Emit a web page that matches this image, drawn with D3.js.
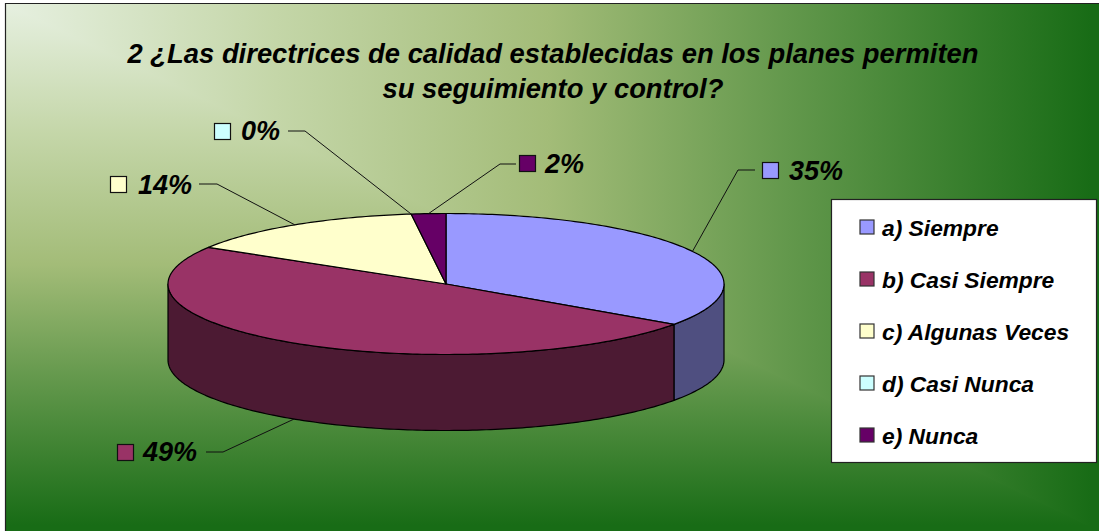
<!DOCTYPE html>
<html>
<head>
<meta charset="utf-8">
<script src="https://cdn.jsdelivr.net/npm/d3@7"></script>
<style>
html,body{margin:0;padding:0;background:#fff;overflow:hidden}
svg{display:block}
text{font-family:"Liberation Sans",Arial,sans-serif;font-weight:bold;font-style:italic;fill:#000}
</style>
</head>
<body>
<svg id="c" width="1099" height="531"></svg>
<script>
const categories = ["a) Siempre","b) Casi Siempre","c) Algunas Veces","d) Casi Nunca","e) Nunca"];
const values = [34.7,49,14.3,0,2];
const valueLabels = ["35%","49%","14%","0%","2%"];
const titleLines = ["2 ¿Las directrices de calidad establecidas en los planes permiten","su seguimiento y control?"];
const topColors = ["#9999ff","#993366","#ffffcc","#ccffff","#660066"];
const sideColors = ["#4f4f80","#4c1a33","#808066","#668080","#330033"];

// layout only
const labelLayout = [
  {swatchX:762,swatchY:162,textX:789,baseline:180,elbowX:738,elbowY:170,endX:755,wall:false},
  {swatchX:117,swatchY:444,textX:143,baseline:461,elbowX:223,elbowY:452,endX:206,wall:true},
  {swatchX:110,swatchY:176,textX:138,baseline:194,elbowX:217,elbowY:184,endX:199,wall:false},
  {swatchX:214,swatchY:123,textX:241,baseline:140,elbowX:305,elbowY:131,endX:288,wall:false},
  {swatchX:519,swatchY:155,textX:545,baseline:173,elbowX:500,elbowY:164,endX:516,wall:false}
];
const W=1099,H=531,depth=76;
const svg=d3.select("#c");
const defs=svg.append("defs");
const frame={x0:5,y0:4,x1:1099,y1:531};
const stops=[[0,"#e6f0e0"],[0.25,"#c4d6a8"],[0.5,"#a3bc78"],[0.72,"#63984c"],[1,"#186c16"]];
function grad(id,x1,y1,x2,y2){
  const g=defs.append("linearGradient").attr("id",id).attr("gradientUnits","userSpaceOnUse")
    .attr("x1",x1).attr("y1",y1).attr("x2",x2).attr("y2",y2);
  stops.forEach(s=>g.append("stop").attr("offset",s[0]).attr("stop-color",s[1]));
}
grad("gh",frame.x0,0,frame.x1-8,0);
grad("gv",0,frame.y0,0,frame.y1-6);
const tri=p=>p.map(d=>d.join(",")).join(" ");
svg.append("rect").attr("x",frame.x0).attr("y",frame.y0).attr("width",frame.x1-frame.x0).attr("height",frame.y1-frame.y0).attr("fill","url(#gv)");
svg.append("polygon").attr("points",tri([[frame.x0,frame.y0],[frame.x1,frame.y0],[frame.x1,frame.y1]])).attr("fill","url(#gh)").attr("shape-rendering","crispEdges");
svg.append("path").attr("d",`M${frame.x0+.5},${frame.y1}V${frame.y0-.5}H${frame.x1}`).attr("fill","none").attr("stroke","#222").attr("stroke-width",1.2);

// pie projected on an ellipse
const sx=d3.scaleLinear().domain([-1,1]).range([168,724]);
const sy=d3.scaleLinear().domain([-1,1]).range([213.5,354.5]);
const px=a=>sx(Math.sin(a)), py=a=>sy(-Math.cos(a));
const arcs=d3.pie().sort(null).startAngle(0).endAngle(2*Math.PI)(values);
const line=d3.line();
const arcPts=(a0,a1,dy=0)=>{
  const n=Math.max(2,Math.ceil((a1-a0)*60));
  return d3.range(n+1).map(i=>{const a=a0+(a1-a0)*i/n;return [px(a),py(a)+dy];});
};
const g=svg.append("g").attr("stroke","#000").attr("stroke-width",1.2).attr("stroke-linejoin","round");
// walls: only the front half of the disc shows
arcs.forEach((d,i)=>{
  const a0=Math.max(d.startAngle,Math.PI/2),a1=Math.min(d.endAngle,3*Math.PI/2);
  if(a1<=a0) return;
  const top=arcPts(a0,a1),bot=arcPts(a0,a1,depth).reverse();
  g.append("path").attr("d",line(top.concat(bot))+"Z").attr("fill",sideColors[i]);
});
arcs.forEach((d,i)=>{
  if(d.endAngle-d.startAngle<=0) return;
  const pts=[[sx(0),sy(0)]].concat(arcPts(d.startAngle,d.endAngle));
  g.append("path").attr("d",line(pts)+"Z").attr("fill",topColors[i]);
});

// title
svg.selectAll("text.title").data(titleLines).join("text").attr("class","title")
  .attr("x",553).attr("y",(d,i)=>63+i*35).attr("text-anchor","middle").attr("font-size",27.4).text(d=>d);

// data labels with leaders
arcs.forEach((d,i)=>{
  const L=labelLayout[i],mid=(d.startAngle+d.endAngle)/2;
  const ax=px(mid),ay=py(mid)+(L.wall?depth:0);
  svg.append("path").attr("d",line([[ax,ay],[L.elbowX,L.elbowY],[L.endX,L.elbowY]]))
    .attr("fill","none").attr("stroke","#111").attr("stroke-width",1);
  svg.append("rect").attr("x",L.swatchX+.5).attr("y",L.swatchY+.5).attr("width",16).attr("height",16)
    .attr("fill",topColors[i]).attr("stroke","#111").attr("stroke-width",1.2);
  svg.append("text").attr("x",L.textX).attr("y",L.baseline).attr("font-size",27).text(valueLabels[i]);
});

// legend
svg.append("rect").attr("x",831.5).attr("y",199.5).attr("width",265).attr("height",263)
  .attr("fill","#fff").attr("stroke","#222").attr("stroke-width",1.2);
const ly=d3.scalePoint().domain(categories).range([227,435]);
categories.forEach((c,i)=>{
  svg.append("rect").attr("x",860).attr("y",ly(c)-7).attr("width",14).attr("height",14)
    .attr("fill",topColors[i]).attr("stroke","#333").attr("stroke-width",1.2);
  svg.append("text").attr("x",882).attr("y",ly(c)+9).attr("font-size",22.8).text(c);
});
</script>
</body>
</html>
